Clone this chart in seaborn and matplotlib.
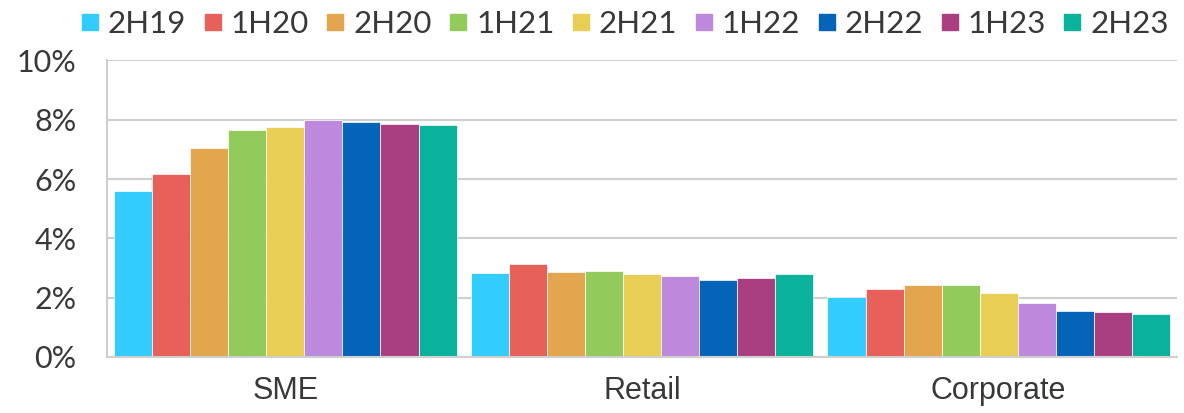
import matplotlib
matplotlib.use("Agg")
import matplotlib.pyplot as plt
from matplotlib.lines import Line2D
from matplotlib.ticker import PercentFormatter
import seaborn as sns
import pandas as pd

# segments and half-year periods
segments = ['SME', 'Retail', 'Corporate']
periods = ['2H19', '1H20', '2H20', '1H21', '2H21', '1H22', '2H22', '1H23', '2H23']

# values in % per segment, one per period
sme = [5.61, 6.18, 7.06, 7.65, 7.77, 8.00, 7.91, 7.86, 7.84]
retail = [2.84, 3.15, 2.86, 2.90, 2.80, 2.74, 2.60, 2.68, 2.81]
corporate = [2.03, 2.30, 2.42, 2.43, 2.15, 1.81, 1.54, 1.51, 1.45]

colors = ['#33CCFF', '#E8605A', '#E3A54E', '#92CB5C', '#E9CE55',
          '#BE89DD', '#0563B8', '#A93E80', '#0AB19B']
palette = dict(zip(periods, colors))

rows = []
for seg, vals in zip(segments, [sme, retail, corporate]):
    for p, v in zip(periods, vals):
        rows.append({'Segment': seg, 'Period': p, 'Value': v})
df = pd.DataFrame(rows)

sns.set_style("white")
text_col = '#383838'

fig = plt.figure(figsize=(11.84, 4.13), dpi=100)
ax = fig.add_axes([0.0904, 0.1356, 0.9037, 0.718])

sns.barplot(data=df, x='Segment', y='Value', hue='Period', order=segments,
            hue_order=periods, palette=palette, width=0.96, legend=False,
            edgecolor='white', linewidth=0.5, saturation=1, ax=ax)

ax.set_ylim(0, 10)
ax.set_xlim(-0.5, 2.5)
ax.set_yticks([0, 2, 4, 6, 8, 10])
ax.yaxis.set_major_formatter(PercentFormatter(decimals=0))
ax.yaxis.grid(True, color='#cfcfcf', linewidth=1.5)
ax.set_axisbelow(True)
ax.set_xlabel('')
ax.set_ylabel('')

for s in ['top', 'right']:
    ax.spines[s].set_visible(False)
for s in ['left', 'bottom']:
    ax.spines[s].set_color('#cfcfcf')
    ax.spines[s].set_linewidth(1.5)

ax.tick_params(axis='y', length=0, pad=22, labelsize=22, labelcolor=text_col)
ax.tick_params(axis='x', length=0, pad=14, labelsize=22, labelcolor=text_col)
for lab in ax.get_yticklabels():
    lab.set_fontfamily('Lato')
for lab in ax.get_xticklabels():
    lab.set_fontfamily('Liberation Sans')

handles = [Line2D([], [], marker='s', linestyle='none', markersize=12,
                  markerfacecolor=c, markeredgecolor=c) for c in colors]
fig.legend(handles, periods, loc='upper center', bbox_to_anchor=(0.528, 1.045),
           ncol=9, frameon=False, handletextpad=0.3, columnspacing=0.57,
           handlelength=0.55, prop={'family': 'Lato', 'size': 22.5},
           labelcolor=text_col)

fig.savefig('out.png', dpi=100)
